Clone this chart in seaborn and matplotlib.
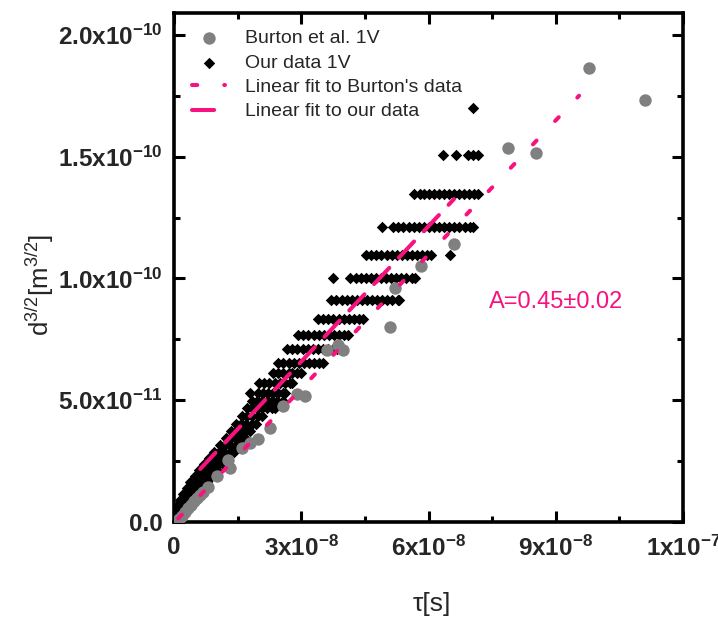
import numpy as np
import pandas as pd
import matplotlib
matplotlib.use("Agg")
import matplotlib.pyplot as plt
import seaborn as sns

# ---------------- data (tau in 1e-8 s, d^{3/2} in 1e-11 m^{3/2}) ----------------
burton_tau = [0.12, 0.19, 0.26, 0.33, 0.40, 0.47, 0.54, 0.61, 0.68, 0.80, 1.02, 1.32,
              1.28, 1.61, 1.80, 1.98, 2.27, 2.57, 2.91, 3.09, 3.61, 3.87, 3.99, 5.10,
              5.20, 5.83, 6.59, 7.87, 8.53, 9.78, 11.10]
burton_d32 = [0.12, 0.25, 0.41, 0.57, 0.70, 0.86, 0.98, 1.11, 1.23, 1.43, 1.89, 2.21,
              2.54, 3.03, 3.24, 3.40, 3.85, 4.75, 5.25, 5.16, 7.05, 7.25, 7.05, 7.99,
              9.59, 10.53, 11.43, 15.37, 15.16, 18.65, 17.33]

# our data: quantised d levels (rows), each with the tau values
our_levels = [17.01, 15.08, 13.48, 12.13, 10.98, 10.00, 9.10, 8.32, 7.66, 7.09, 6.52,
              6.11, 5.70, 5.29, 4.96, 4.67, 4.34, 4.02, 3.73, 3.44, 3.16, 2.87, 2.62,
              2.38, 2.13, 1.89, 1.64, 1.39, 1.15, 0.90, 0.70, 0.49, 0.33, 0.16, 0.04]
our_tau_rows = [
    [7.06],
    [6.35, 6.64, 6.94, 7.04, 7.16],
    [5.65, 5.80, 5.90, 6.00, 6.12, 6.24, 6.36, 6.48, 6.60, 6.72, 6.84, 6.96, 7.08, 7.16],
    [4.91, 5.17, 5.29, 5.41, 5.53, 5.65, 5.77, 5.89, 6.01, 6.13, 6.25, 6.37, 6.49, 6.61,
     6.73, 6.85, 6.97, 7.06],
    [4.53, 4.65, 4.77, 4.89, 5.01, 5.13, 5.25, 5.37, 5.49, 5.61, 5.73, 5.85, 5.97, 6.05, 6.50],
    [3.76, 4.16, 4.28, 4.40, 4.52, 4.64, 4.76, 4.88, 5.00, 5.12, 5.24, 5.36, 5.48, 5.60, 5.69],
    [3.71, 3.83, 3.95, 4.07, 4.19, 4.31, 4.43, 4.55, 4.67, 4.79, 4.91, 5.03, 5.15, 5.27, 5.31],
    [3.40, 3.52, 3.64, 3.76, 3.88, 4.00, 4.12, 4.24, 4.36, 4.46],
    [2.93, 3.05, 3.17, 3.29, 3.41, 3.53, 3.65, 3.77, 3.89, 4.01, 4.11],
    [2.67, 2.79, 2.91, 3.03, 3.15, 3.27, 3.39, 3.51, 3.63, 3.75, 3.85],
    [2.46, 2.58, 2.70, 2.82, 2.94, 3.06, 3.18, 3.30, 3.42, 3.52],
    [2.34, 2.46, 2.58, 2.70, 2.79, 2.90, 3.00],
    [2.01, 2.13, 2.25, 2.37, 2.49, 2.61, 2.73, 2.79],
    [1.80, 1.98, 2.10, 2.22, 2.34, 2.46, 2.58, 2.62],
    [1.84, 1.96, 2.08, 2.20, 2.32, 2.44, 2.57],
    [1.72, 1.84, 1.96, 2.08, 2.20, 2.32, 2.39],
    [1.61, 1.73, 1.85, 1.98, 2.08],
    [1.46, 1.58, 1.70, 1.84, 1.94],
    [1.35, 1.47, 1.59, 1.70, 1.80],
    [1.23, 1.35, 1.47, 1.58, 1.68],
    [1.09, 1.21, 1.33, 1.46, 1.55],
    [0.94, 1.06, 1.18, 1.32, 1.42],
    [0.83, 0.95, 1.07, 1.18, 1.28],
    [0.71, 0.83, 0.95, 1.06, 1.15],
    [0.59, 0.71, 0.83, 0.92, 1.02],
    [0.50, 0.62, 0.74, 0.80, 0.90],
    [0.38, 0.50, 0.62, 0.68, 0.78],
    [0.31, 0.43, 0.55, 0.59, 0.66],
    [0.21, 0.33, 0.47, 0.55],
    [0.14, 0.26, 0.38, 0.45],
    [0.09, 0.20, 0.31, 0.36],
    [0.05, 0.15, 0.24, 0.28],
    [0.02, 0.10, 0.17, 0.21],
    [0.00, 0.06, 0.12, 0.15],
    [0.00, 0.04, 0.07, 0.10],
]

# linear fits (slope in m^{3/2}/s, intercept in m^{3/2}, x range in 1e-8 s)
fit_burton = dict(slope=1.837e-3, intercept=-0.04e-11, x0=0.10, x1=9.55)
fit_ours = dict(slope=1.853e-3, intercept=1.03e-11, x0=0.62, x1=6.60)

x_ticks = [0, 3, 6, 9, 12]
x_ticklabels = ["0", r"3x10$^{\mathbf{-8}}$", r"6x10$^{\mathbf{-8}}$",
                r"9x10$^{\mathbf{-8}}$", r"1x10$^{\mathbf{-7}}$"]
y_ticks = [0, 5, 10, 15, 20]
y_ticklabels = ["0.0", r"5.0x10$^{\mathbf{-11}}$", r"1.0x10$^{\mathbf{-10}}$",
                r"1.5x10$^{\mathbf{-10}}$", r"2.0x10$^{\mathbf{-10}}$"]
annotation = "A=0.45±0.02"

# ---------------- build tables ----------------
burton_df = pd.DataFrame({"tau": np.array(burton_tau) * 1e-8,
                          "d32": np.array(burton_d32) * 1e-11})
ours_tau, ours_d32 = [], []
for lev, row in zip(our_levels, our_tau_rows):
    ours_tau.extend(row)
    ours_d32.extend([lev] * len(row))
ours_df = pd.DataFrame({"tau": np.array(ours_tau) * 1e-8,
                        "d32": np.array(ours_d32) * 1e-11})

# ---------------- style ----------------
sns.set_style("ticks")
plt.rcParams["font.family"] = ["Liberation Sans", "DejaVu Sans"]
plt.rcParams["mathtext.fontset"] = "custom"
plt.rcParams["mathtext.rm"] = "Liberation Sans"
plt.rcParams["mathtext.it"] = "Liberation Sans:italic"
plt.rcParams["mathtext.bf"] = "Liberation Sans:bold"

PINK = "#F7127F"
GRAY = "#808080"

fig = plt.figure(figsize=(7.18, 6.18), dpi=100)
ax = fig.add_axes([174 / 718, (618 - 522) / 618, 509 / 718, 509 / 618])

sns.scatterplot(data=ours_df, x="tau", y="d32", marker="D", s=34, color="black",
                linewidth=0, ax=ax, label="Our data 1V", zorder=2)
sns.scatterplot(data=burton_df, x="tau", y="d32", marker="o", s=80, color=GRAY,
                linewidth=0, ax=ax, label="Burton et al. 1V", zorder=3)

xb = np.array([fit_burton["x0"], fit_burton["x1"]]) * 1e-8
yb = fit_burton["slope"] * xb + fit_burton["intercept"]
ax.plot(xb, yb, color=PINK, lw=2.9, linestyle=(0, (1.3, 6.7)),
        dash_capstyle="round", zorder=4, label="Linear fit to Burton's data")
xo = np.array([fit_ours["x0"], fit_ours["x1"]]) * 1e-8
yo = fit_ours["slope"] * xo + fit_ours["intercept"]
ax.plot(xo, yo, color=PINK, lw=2.9, linestyle=(0, (5.5, 3.5)),
        dash_capstyle="round", zorder=4, label="Linear fit to our data")

ax.set_xlim(0, 1.2e-7)
ax.set_ylim(0, 2.09e-10)

ax.set_xticks(np.array(x_ticks) * 1e-8)
ax.set_xticklabels(x_ticklabels)
ax.set_yticks(np.array(y_ticks) * 1e-11)
ax.set_yticklabels(y_ticklabels)
ax.set_xticks(np.array([1.5, 4.5, 7.5, 10.5]) * 1e-8, minor=True)
ax.set_yticks(np.array([2.5, 7.5, 12.5, 17.5]) * 1e-11, minor=True)
for lab in ax.get_xticklabels() + ax.get_yticklabels():
    lab.set_fontweight("bold")
    lab.set_fontsize(17.5)

ax.tick_params(which="both", direction="in", top=True, right=True, color="black")
ax.tick_params(which="major", length=8, width=2.2)
ax.tick_params(which="minor", length=4.5, width=2.2)
ax.tick_params(axis="x", which="major", pad=10)
ax.tick_params(axis="y", which="major", pad=8)
for sp in ax.spines.values():
    sp.set_linewidth(2.6)
    sp.set_color("black")
    sp.set_visible(True)

ax.set_xlabel("τ[s]", fontsize=19)
ax.set_ylabel(r"d$^{\mathrm{3/2}}$[m$^{\mathrm{3/2}}$]", fontsize=18.5)
ax.xaxis.set_label_coords(0.507, -0.162)
ax.xaxis.label.set_va("center")
ax.yaxis.set_label_coords(-0.263, 0.466)
ax.yaxis.label.set_va("center")

ax.text(7.42e-8, 9.02e-11, annotation, color=PINK, fontsize=17, va="center", ha="left")

handles, labels = ax.get_legend_handles_labels()
order = [labels.index(l) for l in ["Burton et al. 1V", "Our data 1V",
                                    "Linear fit to Burton's data", "Linear fit to our data"]]
leg = ax.legend([handles[i] for i in order], [labels[i] for i in order],
                loc="upper left", bbox_to_anchor=(0.028, 0.975), frameon=False,
                fontsize=14, handlelength=1.7, handletextpad=1.0, labelspacing=0.35,
                borderaxespad=0, borderpad=0.2, markerscale=1.0)

fig.savefig("out.png", dpi=100)
